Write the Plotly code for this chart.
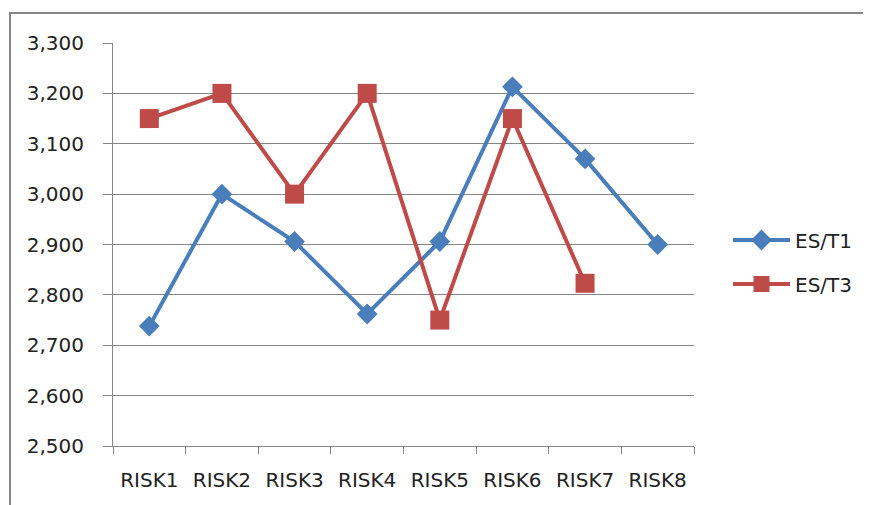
import plotly.graph_objects as go

categories = ["RISK1", "RISK2", "RISK3", "RISK4", "RISK5", "RISK6", "RISK7", "RISK8"]
es_t1 = [2738, 3000, 2906, 2762, 2906, 3213, 3070, 2900]
es_t3 = [3150, 3200, 3000, 3200, 2750, 3150, 2823, None]
y_ticks = [2500, 2600, 2700, 2800, 2900, 3000, 3100, 3200, 3300]

FONT = "DejaVu Sans"
W, H = 871, 505
OFF = 8  # page body margin offset
L, R, T, B = 113 - OFF, 694 - OFF, 43 - OFF, 446 - OFF

fig = go.Figure()
fig.add_trace(go.Scatter(
    x=categories, y=es_t1, name="ES/T1", mode="lines+markers",
    line=dict(color="#4A7EBB", width=4),
    marker=dict(symbol="diamond", size=16, color="#4A7EBB"),
    legend="legend",
))
fig.add_trace(go.Scatter(
    x=categories, y=es_t3, name="ES/T3", mode="lines+markers",
    line=dict(color="#BE4B48", width=4),
    marker=dict(symbol="square", size=19, color="#BE4B48"),
    legend="legend2",
))

def px_x(x):
    return (x - OFF - L) / (R - L)

def px_y(y):
    return (B - (y - OFF)) / (B - T)

fig.update_layout(
    width=W, height=H,
    margin=dict(l=L, r=W - R, t=T, b=H - B, autoexpand=False),
    paper_bgcolor="white", plot_bgcolor="white",
    font=dict(family=FONT, size=20, color="#222222"),
    showlegend=True,
    legend=dict(x=px_x(728), y=px_y(240), xanchor="left", yanchor="middle",
                font=dict(size=20), itemwidth=57, bgcolor="rgba(0,0,0,0)"),
    legend2=dict(x=px_x(728), y=px_y(284), xanchor="left", yanchor="middle",
                 font=dict(size=20), itemwidth=57, bgcolor="rgba(0,0,0,0)"),
    xaxis=dict(
        type="category", range=[-0.5, 7.5], tickson="boundaries",
        ticks="outside", ticklen=7, tickcolor="#868686", tickwidth=1,
        showline=True, linecolor="#868686", linewidth=1,
        showgrid=False, tickfont=dict(size=20, family=FONT),
        ticklabelstandoff=16,
    ),
    yaxis=dict(
        range=[2500, 3300], tickvals=y_ticks, tickformat=",d",
        ticks="outside", ticklen=9, tickcolor="#868686", tickwidth=1,
        showline=True, linecolor="#868686", linewidth=1,
        showgrid=True, gridcolor="#868686", gridwidth=1,
        zeroline=False, tickfont=dict(size=20, family=FONT),
        ticklabelstandoff=15,
    ),
    shapes=[dict(
        type="rect", xref="paper", yref="paper",
        x0=px_x(10), x1=px_x(890), y0=px_y(530), y1=px_y(13),
        line=dict(color="#868686", width=2), fillcolor="rgba(0,0,0,0)",
        layer="below",
    )],
)

fig.write_html("out.html")
